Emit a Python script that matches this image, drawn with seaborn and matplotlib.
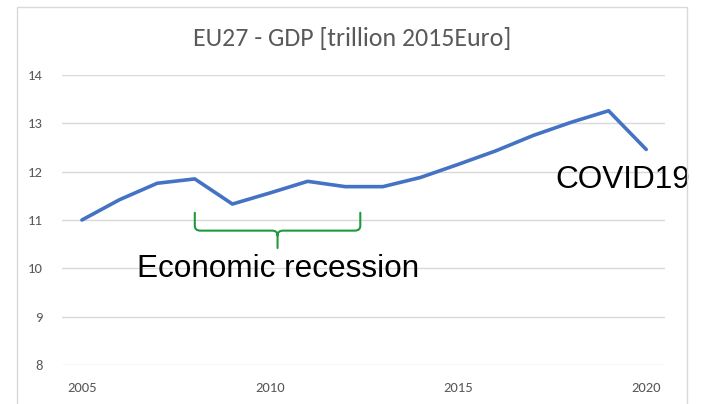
import numpy as np
import pandas as pd
import matplotlib
matplotlib.use("Agg")
import matplotlib.pyplot as plt
from matplotlib import font_manager
from matplotlib.path import Path
from matplotlib.patches import PathPatch, Rectangle
import seaborn as sns

# ---- data ----
years = [2005, 2006, 2007, 2008, 2009, 2010, 2011, 2012, 2013, 2014,
         2015, 2016, 2017, 2018, 2019, 2020]
gdp = [11.00, 11.42, 11.76, 11.85, 11.33, 11.56, 11.80, 11.69, 11.69, 11.88,
       12.15, 12.43, 12.75, 13.02, 13.26, 12.46]
x_ticks = [2005, 2010, 2015, 2020]
y_ticks = [8, 9, 10, 11, 12, 13, 14]
title = "EU27 - GDP [trillion 2015Euro]"
covid_label = "COVID19"
recession_label = "Economic recession"
recession_span = (2008.0, 2012.4)

df = pd.DataFrame({"year": years, "gdp": gdp})

sns.set_theme(style="white")
available = {f.name for f in font_manager.fontManager.ttflist}
ui_font = next((f for f in ["Carlito", "Liberation Sans Narrow", "Open Sans", "Lato"]
                if f in available), "DejaVu Sans")
ann_font = "Liberation Sans" if "Liberation Sans" in available else "DejaVu Sans"
plt.rcParams["font.family"] = [ui_font, "DejaVu Sans"]

W, H = 705, 404
fig = plt.figure(figsize=(W / 100, H / 100), dpi=100)
fig.patch.set_facecolor("white")

# chart frame (Excel chart area border)
fig.add_artist(Rectangle((17 / W, -0.05), (687 - 17) / W, 1.05 - 7 / H,
                         transform=fig.transFigure, fill=False,
                         edgecolor="#D9D9D9", lw=1.0))

ax = fig.add_axes([62 / W, 39 / H, (665 - 62) / W, (365 - 75) / H])
sns.lineplot(data=df, x="year", y="gdp", ax=ax, color="#4472C4",
             linewidth=2.6, solid_capstyle="round", solid_joinstyle="round",
             zorder=3)

ax.set_xlim(2004.47, 2020.5)
ax.set_ylim(8, 14)
ax.set_xticks(x_ticks)
ax.set_yticks(y_ticks)
ax.set_xticklabels([str(t) for t in x_ticks])
ax.set_yticklabels([str(t) for t in y_ticks])
ax.set_xlabel("")
ax.set_ylabel("")
for s in ax.spines.values():
    s.set_visible(False)
ax.yaxis.grid(True, color="#D9D9D9", lw=1.0)
ax.xaxis.grid(False)
ax.set_axisbelow(True)
ax.tick_params(axis="both", length=0, colors="#595959", labelsize=10.5)
ax.tick_params(axis="y", pad=14)
ax.tick_params(axis="x", pad=12)

# title
t = fig.text(352 / W, 1 - 39 / H, title, ha="center", va="center",
             color="#595959", fontsize=16)
fig.canvas.draw()
r = fig.canvas.get_renderer()
w = t.get_window_extent(r).width
t.set_fontsize(16 * 321 / w)

# annotations
ax.text(2019.38, 11.66, covid_label, ha="center", va="baseline", fontsize=22.7,
        family=ann_font, color="black", clip_on=False)
ax.text(2010.21, 9.82, recession_label, ha="center", va="baseline", fontsize=22.7,
        family=ann_font, color="black")

# curly brace
x0, x1 = recession_span
xm = (x0 + x1) / 2
ytop, ybot, ytip = 11.15, 10.78, 10.42
dx, dy = 0.15, 0.10
verts = [(x0, ytop), (x0, ybot + dy), (x0, ybot), (x0 + dx, ybot),
         (xm - dx, ybot), (xm, ybot), (xm, ybot - dy), (xm, ytip),
         (x1, ytop), (x1, ybot + dy), (x1, ybot), (x1 - dx, ybot),
         (xm + dx, ybot), (xm, ybot), (xm, ybot - dy)]
codes = [Path.MOVETO, Path.LINETO, Path.CURVE3, Path.CURVE3,
         Path.LINETO, Path.CURVE3, Path.CURVE3, Path.LINETO,
         Path.MOVETO, Path.LINETO, Path.CURVE3, Path.CURVE3,
         Path.LINETO, Path.CURVE3, Path.CURVE3]
ax.add_patch(PathPatch(Path(verts, codes), fill=False, edgecolor="#1E9A3C",
                       lw=1.5, capstyle="round", zorder=4))

fig.savefig("out.png", dpi=100, facecolor="white")
